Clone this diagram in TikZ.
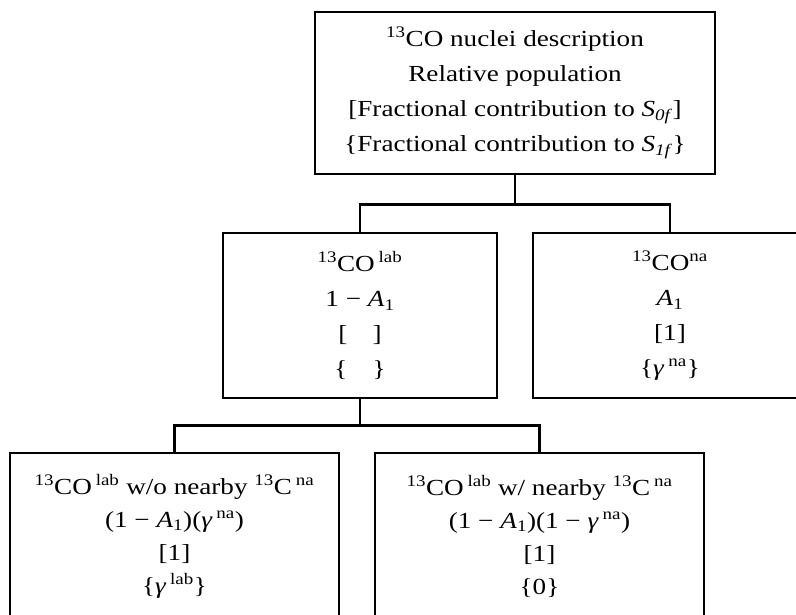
\documentclass[tikz,border=0pt]{standalone}
\usepackage{fontspec}
\setmainfont{Liberation Serif}[FakeStretch=1.18]
\begin{document}
\begin{tikzpicture}[x=1pt,y=-1pt,
  box/.style={draw, line width=2.8pt, align=center, inner sep=0pt,
    font=\fontsize{23}{35}\selectfont},
  lowbox/.style={box, font=\fontsize{23}{33}\selectfont},
  wire/.style={line width=2.8pt}]
\clip (0,0) rectangle (796,614);
\node[box, minimum width=400pt, minimum height=162pt] (top) at (515,93)
  {\textsuperscript{13}CO nuclei description\\Relative population\\
   {[}Fractional contribution to \textit{S}\textsubscript{\textit{0f}}{]}\\
   \{Fractional contribution to \textit{S}\textsubscript{\textit{1f}}\}};
\node[box, minimum width=274pt, minimum height=165pt] (midL) at (360,315.5)
  {\textsuperscript{13}CO\,\textsuperscript{lab}\\
   1 − \textit{A}\textsubscript{1}\\
   {[}\hspace{1.1em}{]}\\
   \{\hspace{1.1em}\}};
\node[box, minimum width=274pt, minimum height=165pt] (midR) at (670,315.5)
  {\textsuperscript{13}CO\textsuperscript{na}\\
   \textit{A}\textsubscript{1}\\
   {[}1{]}\\
   \{\textit{γ}\,\textsuperscript{na}\}};
\node[lowbox, minimum width=329pt, minimum height=166pt] (botL) at (174.5,536)
  {\textsuperscript{13}CO\,\textsuperscript{lab} w/o nearby \textsuperscript{13}C\,\textsuperscript{na}\\
   (1 − \textit{A}\textsubscript{1})(\textit{γ}\,\textsuperscript{na})\\
   {[}1{]}\\
   \{\textit{γ}\,\textsuperscript{lab}\}};
\node[lowbox, minimum width=329pt, minimum height=166pt] (botR) at (539.5,536)
  {\textsuperscript{13}CO\,\textsuperscript{lab} w/ nearby \textsuperscript{13}C\,\textsuperscript{na}\\
   (1 − \textit{A}\textsubscript{1})(1 − \textit{γ}\,\textsuperscript{na})\\
   {[}1{]}\\
   \{0\}};
\path (top.south) ++(0,29) coordinate (j1);
\path (midL.south) ++(0,26) coordinate (j2);
\draw[wire] (top.south) -- (j1);
\draw[wire] (midL.north) |- (j1) -| (midR.north);
\draw[wire] (midL.south) -- (j2);
\draw[wire] (botL.north) |- (j2) -| (botR.north);
\end{tikzpicture}
\end{document}
